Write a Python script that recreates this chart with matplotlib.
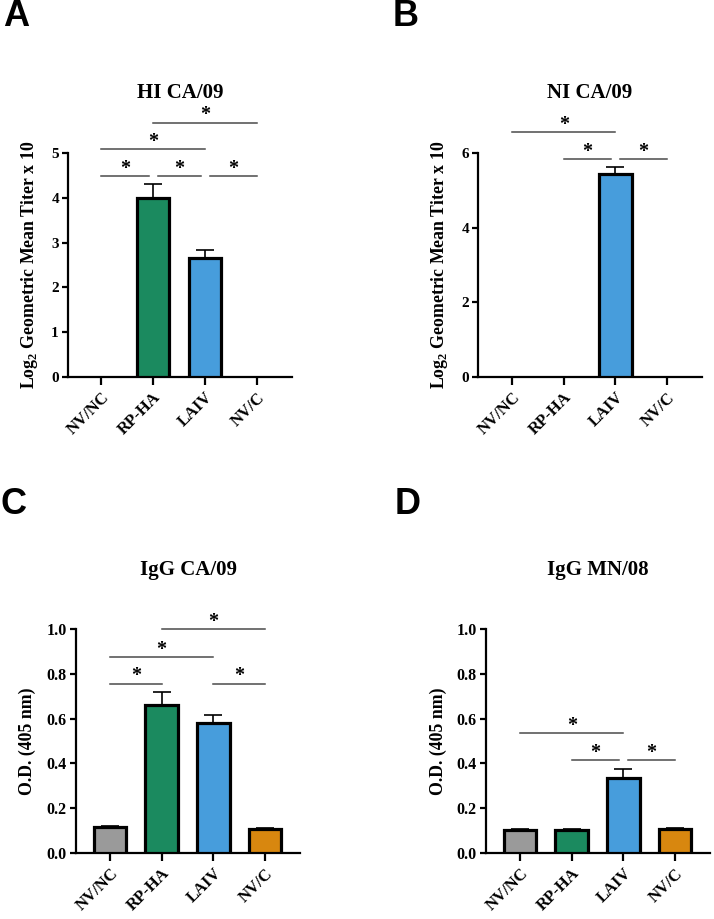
import matplotlib
matplotlib.use("Agg")
import matplotlib.pyplot as plt
import numpy as np

plt.rcParams['font.family'] = ['Liberation Serif', 'DejaVu Serif']
plt.rcParams['font.weight'] = 'bold'
plt.rcParams['mathtext.fontset'] = 'custom'
plt.rcParams['mathtext.rm'] = 'Liberation Serif:bold'
plt.rcParams['mathtext.bf'] = 'Liberation Serif:bold'

groups = ["NV/NC", "RP-HA", "LAIV", "NV/C"]
colors = ["#9a9a9a", "#1b8a5f", "#479ddc", "#d8870f"]

hi_vals = [0.0, 4.0, 2.65, 0.0]
hi_err = [0.0, 0.30, 0.18, 0.0]
hi_sig = [(0, 1, 4.49), (1, 2, 4.49), (2, 3, 4.49), (0, 2, 5.08), (1, 3, 5.68)]

ni_vals = [0.0, 0.0, 5.43, 0.0]
ni_err = [0.0, 0.0, 0.19, 0.0]
ni_sig = [(1, 2, 5.84), (2, 3, 5.84), (0, 2, 6.56)]

igg_ca_vals = [0.115, 0.66, 0.58, 0.105]
igg_ca_err = [0.005, 0.06, 0.035, 0.006]
igg_ca_sig = [(0, 1, 0.756), (2, 3, 0.756), (0, 2, 0.876), (1, 3, 0.998)]

igg_mn_vals = [0.102, 0.102, 0.337, 0.106]
igg_mn_err = [0.006, 0.006, 0.038, 0.006]
igg_mn_sig = [(1, 2, 0.415), (2, 3, 0.415), (0, 2, 0.534)]

W, H = 714, 919
fig = plt.figure(figsize=(W / 100, H / 100), dpi=100)


def px_axes(left, bottom, width, height):
    return fig.add_axes([left / W, 1 - bottom / H, width / W, height / H])


def panel(ax, vals, errs, sig, ylim, yticks, fmt, ylabel, xleft, tick_fs, ylab_x):
    x = np.arange(len(groups))
    for i in range(len(groups)):
        if vals[i] > 0:
            ax.bar(x[i], vals[i], width=0.63, color=colors[i], edgecolor='black',
                   linewidth=2.3, zorder=3)
            ax.errorbar(x[i], vals[i], yerr=[[0], [errs[i]]], fmt='none', ecolor='black',
                        elinewidth=1.2, capsize=6.5, capthick=1.2, zorder=2)
    ax.set_xlim(-xleft, 3.675)
    ax.set_ylim(*ylim)
    ax.set_yticks(yticks)
    ax.set_yticklabels([fmt.format(t) for t in yticks], fontsize=tick_fs, fontweight='bold')
    ax.set_xticks(x)
    ax.set_xticklabels(groups, rotation=45, ha='right', rotation_mode='anchor',
                       fontsize=12, fontweight='bold')
    for s in ['top', 'right']:
        ax.spines[s].set_visible(False)
    for s in ['left', 'bottom']:
        ax.spines[s].set_linewidth(1.6)
    ax.tick_params(axis='x', length=6, width=1.6, pad=3)
    ax.tick_params(axis='y', length=4.5, width=1.6, pad=2)
    ax.set_ylabel(ylabel, fontsize=12.8, fontweight='bold')
    ax.yaxis.set_label_coords(ylab_x, 0.5)
    # significance bars
    levels = {}
    for i, j, y in sig:
        levels.setdefault(y, []).extend([i, j])
    for i, j, y in sig:
        cnt = levels[y]
        a = i + (0.09 if cnt.count(i) > 1 else 0)
        b = j - (0.08 if cnt.count(j) > 1 else 0)
        ax.plot([a, b], [y, y], color='#4a4a4a', lw=1.1, clip_on=False, zorder=4)
        ax.annotate('*', xy=((a + b) / 2, y), xytext=(0, -2), textcoords='offset points',
                    ha='center', va='bottom', fontsize=14.5, fontweight='bold',
                    annotation_clip=False)
    return ax


axA = px_axes(68, 377, 224, 224)
panel(axA, hi_vals, hi_err, hi_sig, (0, 5), [0, 1, 2, 3, 4, 5], '{:g}',
      r'Log$_{2}$ Geometric Mean Titer x 10', 0.635, 11, -0.125)
axB = px_axes(478, 377, 224, 224)
panel(axB, ni_vals, ni_err, ni_sig, (0, 6), [0, 2, 4, 6], '{:g}',
      r'Log$_{2}$ Geometric Mean Titer x 10', 0.66, 11, -0.125)
axC = px_axes(76, 853, 224, 224)
panel(axC, igg_ca_vals, igg_ca_err, igg_ca_sig, (0, 1.0), [0, 0.2, 0.4, 0.6, 0.8, 1.0], '{:.1f}',
      'O.D. (405 nm)', 0.655, 11.5, -0.178)
axD = px_axes(486, 853, 224, 224)
panel(axD, igg_mn_vals, igg_mn_err, igg_mn_sig, (0, 1.0), [0, 0.2, 0.4, 0.6, 0.8, 1.0], '{:.1f}',
      'O.D. (405 nm)', 0.66, 11.5, -0.174)

titles = [("HI CA/09", 180, 93), ("NI CA/09", 590, 93), ("IgG CA/09", 188, 570), ("IgG MN/08", 598, 570)]
for t, xx, yy in titles:
    fig.text(xx / W, 1 - yy / H, t, ha='center', va='center', fontsize=15, fontweight='bold')

letters = [("A", 16, 16), ("B", 406, 16), ("C", 14, 504), ("D", 408, 504)]
for t, xx, yy in letters:
    fig.text(xx / W, 1 - yy / H, t, ha='center', va='center', fontsize=26, fontweight='bold',
             family='Liberation Sans')

fig.savefig('out.png', dpi=100)
